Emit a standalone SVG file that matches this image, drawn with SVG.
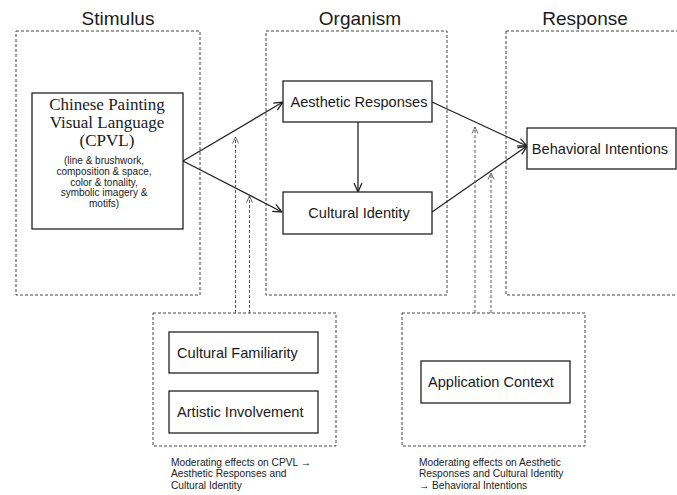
<svg xmlns="http://www.w3.org/2000/svg" width="677" height="495" viewBox="0 0 677 495">
<style>
.bg{fill:#fff}
.grp{fill:none;stroke:#444;stroke-width:1;stroke-dasharray:3 2}
.box{fill:#fff;stroke:#222;stroke-width:1.3}
.title{font-family:"Liberation Sans",Arial,sans-serif;font-size:19px;fill:#1a1a1a;text-anchor:middle}
.serif{font-family:"Liberation Serif","Times New Roman",serif;font-size:17px;fill:#1a1a1a;text-anchor:middle}
.small{font-family:"Liberation Sans",Arial,sans-serif;font-size:10px;fill:#1a1a1a;text-anchor:middle}
.lbl{font-family:"Liberation Sans",Arial,sans-serif;font-size:14.6px;fill:#1a1a1a}
.note{font-family:"Liberation Sans",Arial,sans-serif;font-size:10.2px;fill:#222}
.solid{fill:none;stroke:#222;stroke-width:1.3;marker-end:url(#arr)}
.dash{fill:none;stroke:#555;stroke-width:1;stroke-dasharray:3 2;marker-end:url(#darr)}
</style>
<defs>
<marker id="arr" viewBox="0 0 10 10" refX="10" refY="5" markerWidth="10" markerHeight="10" markerUnits="userSpaceOnUse" orient="auto">
<path d="M1,1 L10,5 L1,9" fill="none" stroke="#222" stroke-width="1.3"/>
</marker>
<marker id="darr" viewBox="0 0 8 8" refX="7.5" refY="4" markerWidth="8" markerHeight="8" markerUnits="userSpaceOnUse" orient="auto">
<path d="M1,1 L7.5,4 L1,7" fill="none" stroke="#555" stroke-width="0.9"/>
</marker>
</defs>
<rect class="bg" x="0" y="0" width="677" height="495"/>

<g id="stimulus-group">
<rect class="grp" x="16" y="31" width="184" height="264"/>
<text class="title" x="118" y="25">Stimulus</text>
</g>
<g id="organism-group">
<rect class="grp" x="266" y="31" width="181" height="264"/>
<text class="title" x="360" y="25">Organism</text>
</g>
<g id="response-group">
<rect class="grp" x="506" y="31" width="185" height="264"/>
<text class="title" x="585" y="25">Response</text>
</g>
<g id="moderator1-group">
<rect class="grp" x="153" y="313" width="183" height="133"/>
<text class="note" x="171" y="465.5">Moderating effects on CPVL →</text>
<text class="note" x="171" y="477.2">Aesthetic Responses and</text>
<text class="note" x="171" y="489">Cultural Identity</text>
</g>
<g id="moderator2-group">
<rect class="grp" x="402" y="313" width="183" height="133"/>
<text class="note" x="419" y="465.5">Moderating effects on Aesthetic</text>
<text class="note" x="419" y="477.2">Responses and Cultural Identity</text>
<text class="note" x="419" y="489">→ Behavioral Intentions</text>
</g>

<g id="connectors">
<line class="solid" x1="183" y1="161" x2="283" y2="102"/>
<line class="solid" x1="183" y1="161" x2="282" y2="212"/>
<line class="solid" x1="358" y1="122" x2="358" y2="192"/>
<line class="solid" x1="432" y1="102" x2="527" y2="146"/>
<line class="solid" x1="432" y1="212" x2="527" y2="146"/>
<line class="dash" x1="235.5" y1="313" x2="235.5" y2="137"/>
<line class="dash" x1="249.5" y1="313" x2="249.5" y2="196"/>
<line class="dash" x1="475" y1="313" x2="475" y2="127"/>
<line class="dash" x1="491" y1="313" x2="491" y2="173"/>
</g>

<g id="cpvl">
<rect class="box" x="32" y="93" width="151" height="136"/>
<text class="serif" x="107" y="110">Chinese Painting</text>
<text class="serif" x="107" y="128">Visual Language</text>
<text class="serif" x="107" y="146">(CPVL)</text>
<text class="small" x="104" y="164">(line &amp; brushwork,</text>
<text class="small" x="104" y="175">composition &amp; space,</text>
<text class="small" x="104" y="185.5">color &amp; tonality,</text>
<text class="small" x="104" y="196">symbolic imagery &amp;</text>
<text class="small" x="104" y="206.5">motifs)</text>
</g>
<g id="aesthetic-responses">
<rect class="box" x="283" y="81" width="149" height="41"/>
<text class="lbl" x="359" y="107" text-anchor="middle">Aesthetic Responses</text>
</g>
<g id="cultural-identity">
<rect class="box" x="283" y="192" width="149" height="42"/>
<text class="lbl" x="359" y="218" text-anchor="middle">Cultural Identity</text>
</g>
<g id="behavioral-intentions">
<rect class="box" x="527" y="128" width="149" height="41"/>
<text class="lbl" x="600" y="153.5" text-anchor="middle">Behavioral Intentions</text>
</g>
<g id="cultural-familiarity">
<rect class="box" x="169" y="332" width="149" height="41"/>
<text class="lbl" x="177" y="357.5">Cultural Familiarity</text>
</g>
<g id="artistic-involvement">
<rect class="box" x="169" y="391" width="149" height="42"/>
<text class="lbl" x="177" y="417">Artistic Involvement</text>
</g>
<g id="application-context">
<rect class="box" x="421" y="361" width="149" height="42"/>
<text class="lbl" x="428" y="387">Application Context</text>
</g>
</svg>
